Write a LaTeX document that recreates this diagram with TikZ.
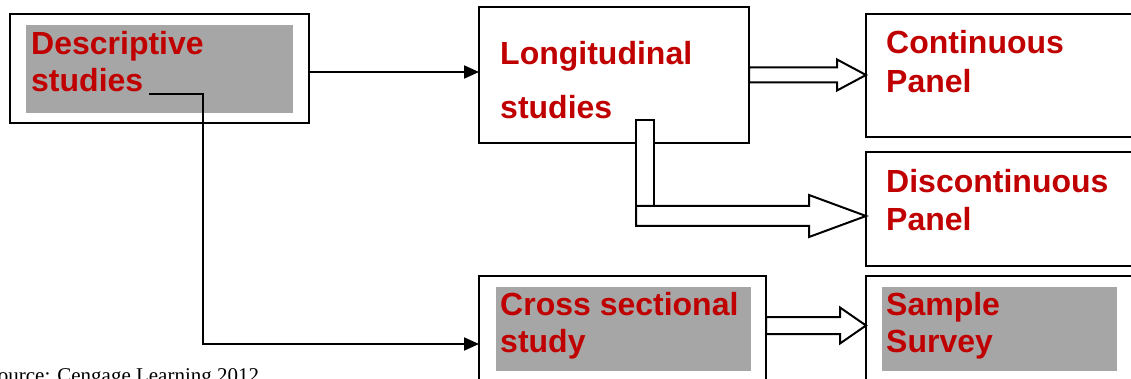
\documentclass[tikz,border=0pt]{standalone}
\usepackage{fontspec}
\setmainfont{Liberation Sans}
\newfontfamily\srcfont{Liberation Serif}
\usetikzlibrary{arrows.meta,calc}
\definecolor{dred}{HTML}{C00000}
\definecolor{boxgray}{HTML}{A6A6A6}
\tikzset{
  boxnode/.style={draw=black, line width=2pt, fill=white, rectangle, inner sep=0pt, outer sep=0pt, anchor=north west},
  graynode/.style={fill=boxgray, rectangle, inner sep=0pt, outer sep=0pt, anchor=north west},
  lbl/.style={anchor=base west, inner sep=0pt, text=dred, font=\fontsize{32}{38}\selectfont\bfseries},
  arr/.style={draw=black, line width=2pt, -{Triangle[length=15pt,width=13pt]}},
  block/.style={draw=black, line width=2pt, fill=white, line join=miter},
}
\newcommand\blockarr[5]{%
  \draw[block] let \p1=(#1), \p2=(#2) in
    (\x1,\y1+#3) -- (\x2-#5,\y1+#3) -- (\x2-#5,\y1+#4) -- (\x2,\y1)
    -- (\x2-#5,\y1-#4) -- (\x2-#5,\y1-#3) -- (\x1,\y1-#3) -- cycle;}
\begin{document}
\begin{tikzpicture}[x=1pt,y=-1pt]
\useasboundingbox (0,0) rectangle (1131,379);
\clip (0,0) rectangle (1131,379);
\fill[white] (0,0) rectangle (1131,379);

% boxes
\node[boxnode, minimum width=299pt, minimum height=109pt] (A) at (10,14) {};
\node[graynode, minimum width=267pt, minimum height=88pt] (Ag) at (26,25) {};
\node[boxnode, minimum width=270pt, minimum height=136pt] (B) at (479,7) {};
\node[boxnode, minimum width=280pt, minimum height=123pt] (C) at (866,14) {};
\node[boxnode, minimum width=280pt, minimum height=114pt] (D) at (866,152) {};
\node[boxnode, minimum width=287pt, minimum height=130pt] (E) at (479,276) {};
\node[graynode, minimum width=255pt, minimum height=84pt] (Eg) at (496,287) {};
\node[boxnode, minimum width=280pt, minimum height=130pt] (F) at (866,276) {};
\node[graynode, minimum width=235pt, minimum height=84pt] (Fg) at (882,287) {};

% labels
\node[lbl] (A1) at (31,55) {Descriptive};
\node[lbl] (A2) at (31,92) {studies};
\node[lbl] (B1) at (500,65) {Longitudinal};
\node[lbl] (B2) at (500,119) {studies};
\node[lbl] (C1) at (886,54) {Continuous};
\node[lbl] (C2) at (886,93) {Panel};
\node[lbl] (D1) at (886,193) {Discontinuous};
\node[lbl] (D2) at (886,231) {Panel};
\node[lbl] (E1) at (500,315) {Cross sectional};
\node[lbl] (E2) at (500,352) {study};
\node[lbl] (F1) at (886,315) {Sample};
\node[lbl] (F2) at (886,352) {Survey};

% source line
\node[anchor=base west, inner sep=0pt, font=\srcfont\fontsize{21}{25}\selectfont] (src) at (-14,382) {Source: Cengage Learning 2012};

% thin connectors
\coordinate (y1) at (0,72);
\coordinate (y2) at (0,344);
\coordinate (s) at (149,94);
\draw[arr] (A.east |- y1) -- (B.west |- y1);
\draw[arr] (s) -- ++(54,0) |- (E.west |- y2);

% block arrows
\blockarr{B.east}{C.west}{7.5pt}{15.5pt}{29pt}
\draw[block] (636,120) rectangle (654,206);
\coordinate (b4) at (636,216);
\coordinate (d4) at (D.west |- b4);
\blockarr{b4}{d4}{10pt}{21pt}{57pt}
\coordinate (e5) at (E.east |- 0,325.5);
\blockarr{e5}{F.west}{8.5pt}{18pt}{26pt}
\end{tikzpicture}
\end{document}
